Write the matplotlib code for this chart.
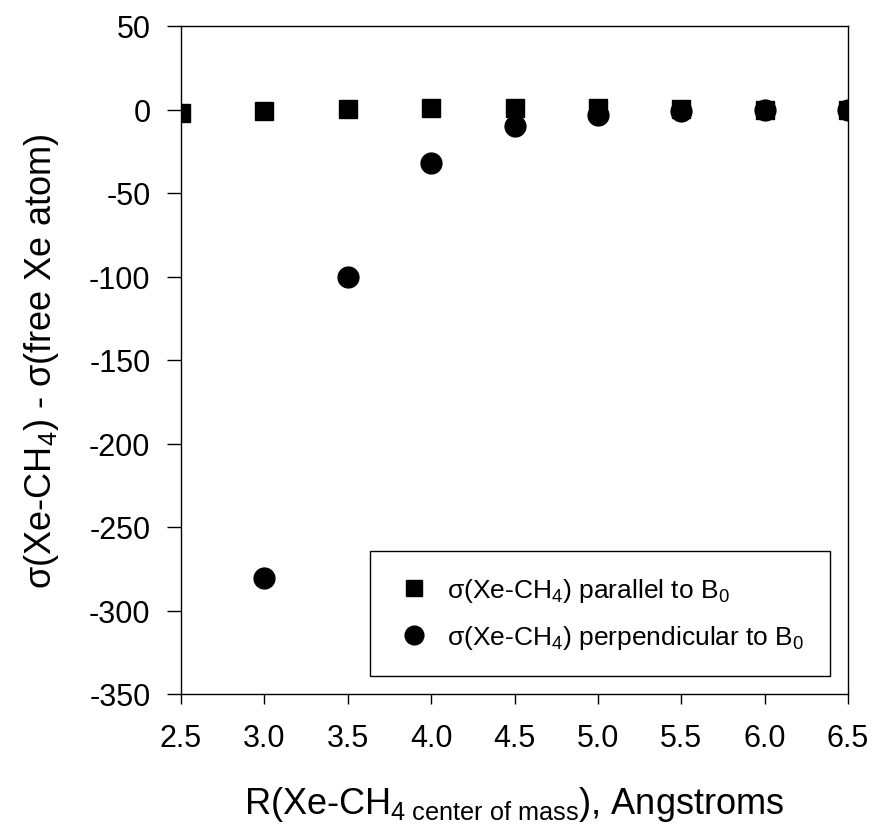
import matplotlib
matplotlib.use('Agg')
import matplotlib.pyplot as plt

plt.rcParams['font.family'] = ['Liberation Sans', 'DejaVu Sans']
plt.rcParams['mathtext.fontset'] = 'custom'
plt.rcParams['mathtext.rm'] = 'Liberation Sans'
plt.rcParams['mathtext.it'] = 'Liberation Sans'
plt.rcParams['mathtext.sf'] = 'Liberation Sans'

# data
r_par = [2.5, 3.0, 3.5, 4.0, 4.5, 5.0, 5.5, 6.0, 6.5]
sigma_par = [-2, -1, 0.5, 1, 1, 1, 0.5, 0, 0]
r_perp = [3.0, 3.5, 4.0, 4.5, 5.0, 5.5, 6.0, 6.5]
sigma_perp = [-280.5, -100, -32, -10, -3, -1, 0, 0]
xticks = [2.5, 3.0, 3.5, 4.0, 4.5, 5.0, 5.5, 6.0, 6.5]
yticks = [50, 0, -50, -100, -150, -200, -250, -300, -350]

fig = plt.figure(figsize=(8.72, 8.28), dpi=100)
ax = fig.add_axes([181/872, 1-695/828, (848-181)/872, (695-27)/828])

ax.plot(r_par, sigma_par, 's', color='black', markersize=13,
        label=r'$\sigma$(Xe-CH$_4$) parallel to B$_0$')
ax.plot(r_perp, sigma_perp, 'o', color='black', markersize=15,
        label=r'$\sigma$(Xe-CH$_4$) perpendicular to B$_0$')

ax.set_xlim(2.5, 6.5)
ax.set_ylim(-350, 50)
ax.set_xticks(xticks)
ax.set_xticklabels(['%.1f' % x for x in xticks])
ax.set_yticks(yticks)
ax.set_yticklabels([str(y) for y in yticks])
ax.tick_params(direction='out', width=1, labelsize=22)
ax.tick_params(axis='x', length=7, pad=14)
ax.tick_params(axis='y', length=10, pad=12)
for s in ax.spines.values():
    s.set_linewidth(1)

ax.set_xlabel(r'R(Xe-CH$_{4\ \mathrm{center\ of\ mass}}$), Angstroms', fontsize=26, labelpad=22)
ax.set_ylabel(r'$\sigma$(Xe-CH$_4$) - $\sigma$(free Xe atom)', fontsize=26, labelpad=20)

leg = ax.legend(loc='lower right', bbox_to_anchor=(0.973, 0.027), borderaxespad=0,
                fontsize=19, frameon=True, fancybox=False, edgecolor='black',
                framealpha=1, borderpad=0.95, handlelength=1.5, handletextpad=0.5,
                labelspacing=0.7, markerscale=0.9)
leg.get_frame().set_linewidth(1)

fig.savefig('out.png', dpi=100)
